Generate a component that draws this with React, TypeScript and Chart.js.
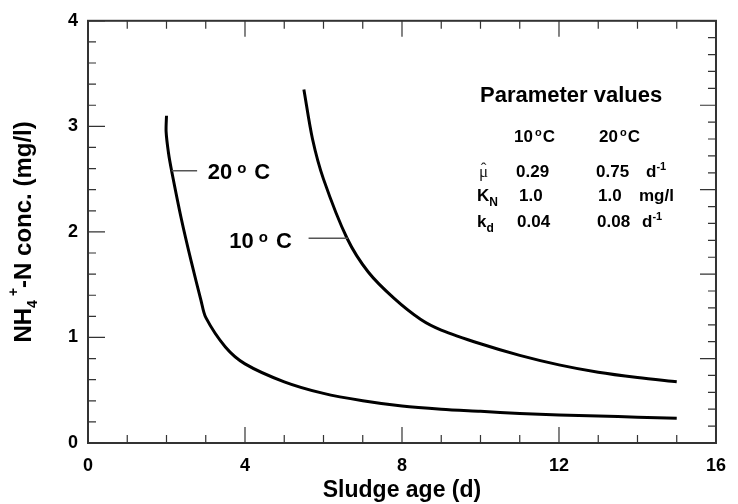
import React, { useEffect, useRef } from "react";
import { Chart, registerables } from "chart.js";

Chart.register(...registerables);

// ---- data ----
const sludgeAge20 = [2.0, 1.99, 2.05, 2.13, 2.38, 2.63, 2.88, 3.0, 3.5, 4, 5, 6, 7, 8, 9, 10, 11, 12, 13, 14, 15];
const conc20 = [3.1, 2.95, 2.75, 2.58, 2.12, 1.72, 1.35, 1.19, 0.91, 0.75, 0.58, 0.47, 0.4, 0.35, 0.32, 0.3, 0.28, 0.265, 0.255, 0.245, 0.235];
const sludgeAge10 = [5.5, 5.72, 6.0, 6.6, 7.14, 7.8, 8.48, 9, 10, 11, 12, 13, 14, 15];
const conc10 = [3.35, 2.88, 2.5, 1.94, 1.62, 1.37, 1.17, 1.07, 0.94, 0.83, 0.74, 0.67, 0.62, 0.58];

const xTicks = [0, 4, 8, 12, 16];
const yTicks = [0, 1, 2, 3, 4];

const FONT = '"Liberation Sans", Arial, Helvetica, sans-serif';

type Run = { t: string; size: number; dx?: number; dy?: number; weight?: string; family?: string };

function drawRuns(ctx: CanvasRenderingContext2D, x: number, y: number, runs: Run[]) {
  let cx = x;
  for (const r of runs) {
    ctx.font = `${r.weight ?? "bold"} ${r.size}px ${r.family ?? FONT}`;
    cx += r.dx ?? 0;
    ctx.fillText(r.t, cx, y + (r.dy ?? 0));
    cx += ctx.measureText(r.t).width;
  }
  return cx - x;
}

function runsWidth(ctx: CanvasRenderingContext2D, runs: Run[]) {
  let w = 0;
  for (const r of runs) {
    ctx.font = `${r.weight ?? "bold"} ${r.size}px ${r.family ?? FONT}`;
    w += (r.dx ?? 0) + ctx.measureText(r.t).width;
  }
  return w;
}

const overlayPlugin = {
  id: "overlay",
  afterDatasetsDraw(chart: any) {
    const ctx: CanvasRenderingContext2D = chart.ctx;
    const { left, right, top, bottom } = chart.chartArea;
    const xs = chart.scales.x;
    const ys = chart.scales.y;
    const y2 = chart.scales.y2;
    ctx.save();

    // frame
    ctx.strokeStyle = "#333";
    ctx.lineWidth = 2;
    ctx.strokeRect(left, top, right - left, bottom - top);

    // ticks
    ctx.lineWidth = 1.2;
    ctx.strokeStyle = "#333";
    ctx.beginPath();
    for (let v = 0; v <= 16; v++) {
      const px = xs.getPixelForValue(v);
      const len = v % 4 === 0 ? 16 : 8;
      ctx.moveTo(px, bottom);
      ctx.lineTo(px, bottom - len);
      ctx.moveTo(px, top);
      ctx.lineTo(px, top + len);
    }
    for (let i = 0; i <= 20; i++) {
      const v = i / 5;
      const py = ys.getPixelForValue(v);
      const len = i % 5 === 0 ? 17 : 8;
      ctx.moveTo(left, py);
      ctx.lineTo(left + len, py);
    }
    for (let i = 0; i <= 25; i++) {
      const v = i / 5;
      const py = y2.getPixelForValue(v);
      const len = i % 5 === 0 ? 16 : 8;
      ctx.moveTo(right, py);
      ctx.lineTo(right - len, py);
    }
    ctx.stroke();

    // curve labels with leader lines
    ctx.strokeStyle = "#555";
    ctx.lineWidth = 1.5;
    ctx.beginPath();
    ctx.moveTo(xs.getPixelForValue(2.13), ys.getPixelForValue(2.58));
    ctx.lineTo(xs.getPixelForValue(2.78), ys.getPixelForValue(2.58));
    ctx.moveTo(xs.getPixelForValue(5.62), ys.getPixelForValue(1.94));
    ctx.lineTo(xs.getPixelForValue(6.62), ys.getPixelForValue(1.94));
    ctx.stroke();

    ctx.fillStyle = "#000";
    ctx.textAlign = "left";
    ctx.textBaseline = "alphabetic";
    drawRuns(ctx, xs.getPixelForValue(3.05), ys.getPixelForValue(2.5), [
      { t: "20", size: 22 },
      { t: "o", size: 15, dx: 5, dy: -6 },
      { t: "C", size: 22, dx: 8 },
    ]);
    drawRuns(ctx, xs.getPixelForValue(3.6), ys.getPixelForValue(1.85), [
      { t: "10", size: 22 },
      { t: "o", size: 15, dx: 5, dy: -6 },
      { t: "C", size: 22, dx: 8 },
    ]);

    // parameter table
    drawRuns(ctx, 480, 102, [{ t: "Parameter values", size: 22 }]);
    const hdr = (x: number, a: string) =>
      drawRuns(ctx, x, 142, [
        { t: a, size: 17 },
        { t: "o", size: 11, dx: 2, dy: -6 },
        { t: "C", size: 17, dx: 1 },
      ]);
    hdr(514, "10");
    hdr(599, "20");

    // mu-hat (serif, regular)
    ctx.font = `normal 17px "Liberation Serif", "Times New Roman", serif`;
    ctx.fillStyle = "#222";
    ctx.fillText("\u03bc", 479, 177);
    const muW = ctx.measureText("\u03bc").width;
    ctx.textAlign = "center";
    ctx.fillText("\u02c6", 479 + muW / 2, 174);
    ctx.textAlign = "left";
    ctx.fillStyle = "#000";

    drawRuns(ctx, 516, 177, [{ t: "0.29", size: 17 }]);
    drawRuns(ctx, 596, 177, [{ t: "0.75", size: 17 }]);
    drawRuns(ctx, 646, 177, [{ t: "d", size: 17 }, { t: "-1", size: 11, dy: -7 }]);

    drawRuns(ctx, 477, 201, [{ t: "K", size: 17 }, { t: "N", size: 12, dy: 5 }]);
    drawRuns(ctx, 519, 201, [{ t: "1.0", size: 17 }]);
    drawRuns(ctx, 598, 201, [{ t: "1.0", size: 17 }]);
    drawRuns(ctx, 639, 201, [{ t: "mg/l", size: 17 }]);

    drawRuns(ctx, 477, 227, [{ t: "k", size: 17 }, { t: "d", size: 12, dy: 5 }]);
    drawRuns(ctx, 517, 227, [{ t: "0.04", size: 17 }]);
    drawRuns(ctx, 597, 227, [{ t: "0.08", size: 17 }]);
    drawRuns(ctx, 642, 227, [{ t: "d", size: 17 }, { t: "-1", size: 11, dy: -7 }]);

    // y-axis title (rotated, with sub/superscripts)
    const yRuns: Run[] = [
      { t: "NH", size: 24 },
      { t: "4", size: 14, dy: 6 },
      { t: "+", size: 14, dx: 4, dy: -13 },
      { t: "-N conc. (mg/l)", size: 24 },
    ];
    const tw = runsWidth(ctx, yRuns);
    const cy = (top + bottom) / 2;
    ctx.translate(31, cy + tw / 2);
    ctx.rotate(-Math.PI / 2);
    drawRuns(ctx, 0, 0, yRuns);

    ctx.restore();
  },
};

export default function App() {
  const ref = useRef<HTMLCanvasElement | null>(null);

  useEffect(() => {
    if (!ref.current) return;
    const chart = new Chart(ref.current, {
      type: "line",
      data: {
        datasets: [
          {
            label: "20 °C",
            data: sludgeAge20.map((x, i) => ({ x, y: conc20[i] })),
            borderColor: "#000",
            borderWidth: 3,
            pointRadius: 0,
            tension: 0.3,
            fill: false,
          },
          {
            label: "10 °C",
            data: sludgeAge10.map((x, i) => ({ x, y: conc10[i] })),
            borderColor: "#000",
            borderWidth: 3,
            pointRadius: 0,
            tension: 0.3,
            fill: false,
          },
        ],
      },
      options: {
        responsive: false,
        animation: false,
        devicePixelRatio: 1,
        layout: { padding: { top: 17, right: 12, left: 0, bottom: 0 } },
        plugins: { legend: { display: false }, tooltip: { enabled: false } },
        scales: {
          x: {
            type: "linear",
            position: "bottom",
            min: 0,
            max: 16,
            afterBuildTicks: (s: any) => {
              s.ticks = xTicks.map((v) => ({ value: v }));
            },
            ticks: { color: "#000", font: { family: FONT, size: 18, weight: "bold" }, padding: 12 },
            grid: { display: false, drawTicks: false },
            border: { display: false },
            title: {
              display: true,
              text: "Sludge age (d)",
              color: "#000",
              font: { family: FONT, size: 23, weight: "bold" },
              padding: { top: 0, bottom: 0 },
            },
            afterFit: (s: any) => {
              s.height = 61;
            },
          },
          y: {
            type: "linear",
            position: "left",
            min: 0,
            max: 4,
            afterBuildTicks: (s: any) => {
              s.ticks = yTicks.map((v) => ({ value: v }));
            },
            ticks: { color: "#000", font: { family: FONT, size: 18, weight: "bold" }, padding: 10 },
            grid: { display: false, drawTicks: false },
            border: { display: false },
            afterFit: (s: any) => {
              s.width = 88;
            },
          },
          y2: {
            type: "linear",
            position: "right",
            min: 0,
            max: 5,
            ticks: { display: false },
            grid: { display: false, drawTicks: false },
            border: { display: false },
            afterFit: (s: any) => {
              s.width = 0;
            },
          },
        },
      } as any,
      plugins: [overlayPlugin],
    });
    return () => chart.destroy();
  }, []);

  return (
    <div style={{ position: "fixed", left: 0, top: 0, width: 738, height: 504, background: "#fff" }}>
      <canvas ref={ref} width={738} height={504} style={{ display: "block" }} />
    </div>
  );
}
